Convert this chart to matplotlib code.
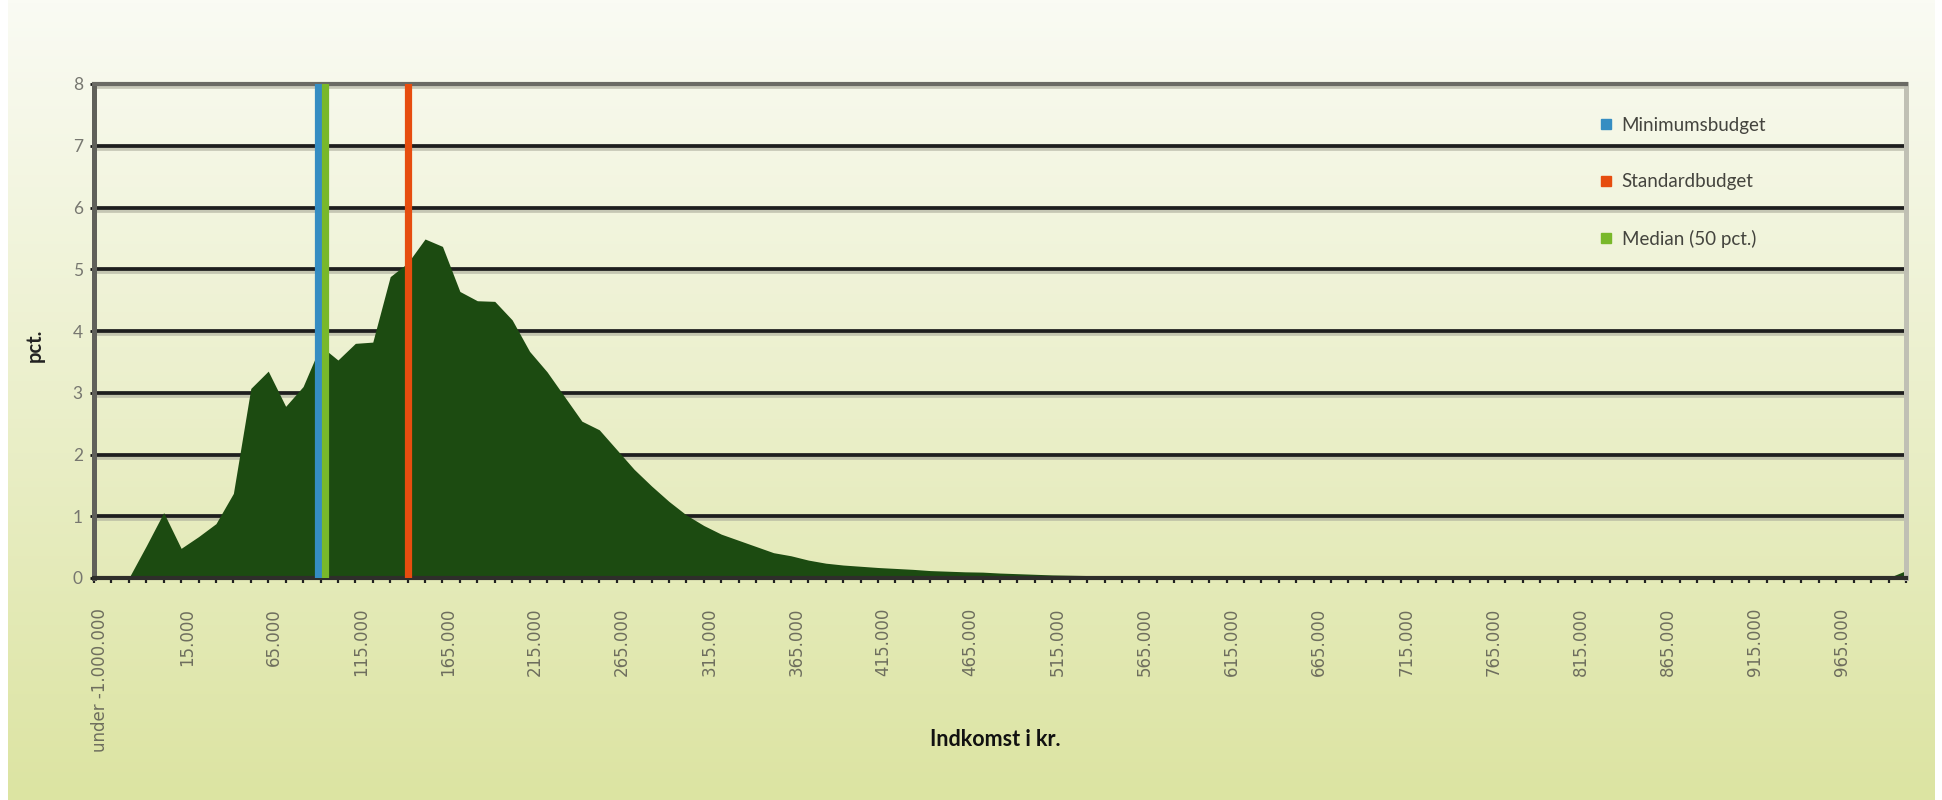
import numpy as np
import matplotlib.pyplot as plt
import matplotlib.patheffects as pe
import matplotlib.transforms as mtransforms
from matplotlib.lines import Line2D

# share of persons (pct.) per income group
pct = [0, 0, 0, 0.52, 1.06, 0.48, 0.67, 0.88, 1.37, 3.07,
       3.35, 2.78, 3.10, 3.76, 3.53, 3.80, 3.82, 4.88, 5.10, 5.49,
       5.37, 4.64, 4.49, 4.48, 4.18, 3.67, 3.34, 2.94, 2.54, 2.40,
       2.08, 1.76, 1.49, 1.24, 1.02, 0.85, 0.71, 0.61, 0.51, 0.41,
       0.36, 0.29, 0.24, 0.21, 0.19, 0.17, 0.155, 0.14, 0.12, 0.11,
       0.10, 0.095, 0.08, 0.07, 0.06, 0.05, 0.045, 0.04, 0.035, 0.03,
       0.03, 0.025, 0.025, 0.02, 0.02, 0.02, 0.02, 0.015, 0.015, 0.015,
       0.015, 0.015, 0.012, 0.01, 0.01, 0.01, 0.01, 0.01, 0.01, 0.01,
       0.01, 0.005, 0.005, 0.005, 0.005, 0.005, 0.005, 0.005, 0.005, 0.005,
       0.005, 0.005, 0.005, 0.005, 0.005, 0.005, 0.005, 0.005, 0.005, 0.005,
       0.005, 0.005, 0.005, 0.005, 0.12]

# every 5th income group carries a label
xtick_labels = ['under -1.000.000', '15.000', '65.000', '115.000', '165.000',
                '215.000', '265.000', '315.000', '365.000', '415.000',
                '465.000', '515.000', '565.000', '615.000', '665.000',
                '715.000', '765.000', '815.000', '865.000', '915.000', '965.000']

# budget markers, position given on the income group axis
budget_names = ['Minimumsbudget', 'Standardbudget', 'Median (50 pct.)']
budget_colors = ['#358dc2', '#e64d0f', '#79b82a']
budget_pos = [12.83, 18.0, 13.23]

plt.rcParams['font.family'] = ['Lato', 'DejaVu Sans']

W, H = 1942, 800
fig = plt.figure(figsize=(W / 100, H / 100), dpi=100)
fig.patch.set_facecolor('white')

# yellow-green gradient behind everything
bg = fig.add_axes([8 / W, 0, 1 - 16 / W, 1], zorder=-10)
top_col = np.array([250, 251, 244]) / 255
bot_col = np.array([220, 228, 162]) / 255
t = np.linspace(0, 1, 256)[:, None]
grad = top_col + (bot_col - top_col) * t
bg.imshow(grad[:, None, :], aspect='auto', extent=[0, 1, 0, 1])
bg.axis('off')

ax = fig.add_axes([94 / W, 1 - 578 / H, 1812 / W, 494 / H])
ax.set_facecolor('none')

x = np.arange(len(pct))
ax.fill_between(x, pct, color='#1c4b11', lw=0, zorder=2)

for pos, col in zip(budget_pos, budget_colors):
    ax.axvline(pos, color=col, lw=5.2, zorder=3)

ax.set_xlim(0, len(pct) - 1)
ax.set_ylim(0, 8)
ax.set_yticks(range(9))
ax.set_xticks(x[::5], xtick_labels)
ax.set_xticks(x, minor=True)

ax.set_axisbelow(True)
ax.yaxis.grid(True, color='#1e1e1e', lw=2.7)
for gl in ax.get_ygridlines():
    gl.set_path_effects([pe.SimpleLineShadow(offset=(0, -2.2), shadow_color='#a8a898', alpha=0.6),
                         pe.Normal()])

ax.tick_params(axis='x', which='both', length=3.5, width=1.6, color='#222222', direction='out')
ax.tick_params(axis='x', which='major', pad=18, labelrotation=90)
ax.tick_params(axis='y', length=3, width=2, color='#111111', pad=5, labelsize=12.5, labelcolor='#777770')
for lab in ax.get_xticklabels():
    lab.set_family('DejaVu Sans')
    lab.set_fontsize(12)
    lab.set_color('#6e6e5e')
    lab.set_transform(lab.get_transform() + mtransforms.ScaledTranslation(4 / 72, 0, fig.dpi_scale_trans))

ax.spines['left'].set_color('#60605a')
ax.spines['left'].set_linewidth(3.6)
ax.spines['bottom'].set_color('#2e2e2a')
ax.spines['bottom'].set_linewidth(3)
ax.spines['top'].set_color('#6a6a64')
ax.spines['top'].set_linewidth(3)
ax.spines['right'].set_color('#c0c0b4')
ax.spines['right'].set_linewidth(3.6)

ax.set_xlabel('Indkomst i kr.', fontweight='bold', fontsize=15.5, color='#111111')
ax.xaxis.set_label_coords(0.4975, -0.305)
ax.set_ylabel('pct.', fontweight='bold', fontsize=14.5, color='#222222', va='center')
ax.yaxis.set_label_coords((35 - 94) / 1812, (578 - 345) / 494)

handles = [Line2D([], [], ls='none', marker='s', ms=7.2, mfc=c, mec=c) for c in budget_colors]
ax.legend(handles, budget_names, loc='upper left', bbox_to_anchor=(1600 / W, 1 - 117 / H),
          bbox_transform=fig.transFigure, frameon=False, fontsize=13.5, labelcolor='#44443e',
          handlelength=0.6, handletextpad=0.55, labelspacing=2.1, borderpad=0, borderaxespad=0)

fig.savefig('out.png', dpi=100)
